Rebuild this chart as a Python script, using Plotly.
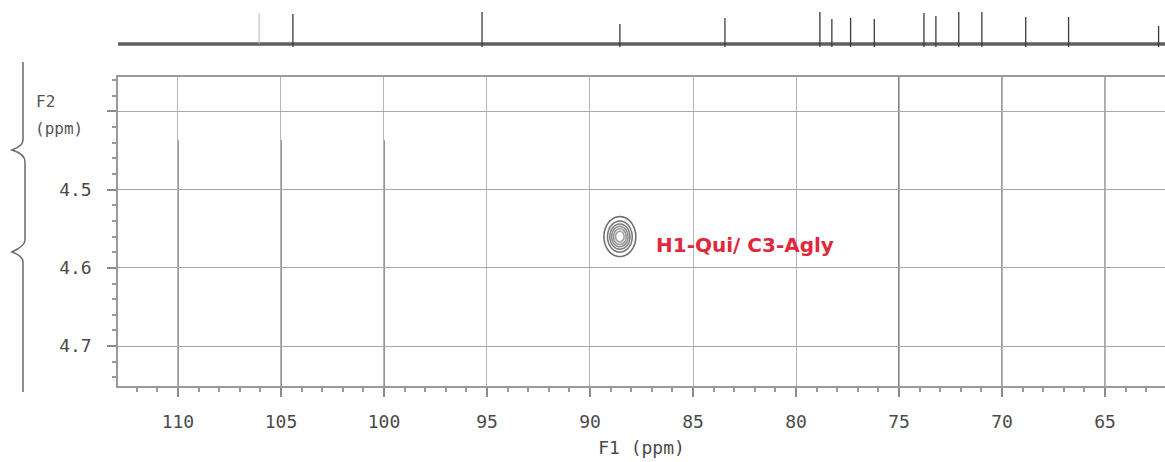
import numpy as np
import plotly.graph_objects as go

# ---------------- data ----------------
x_tickvals = [110, 105, 100, 95, 90, 85, 80, 75, 70, 65]
x_ticktext = ["110", "105", "100", "95", "90", "85", "80", "75", "70", "65"]
y_tickvals = [4.4, 4.5, 4.6, 4.7]
y_ticktext = ["", "4.5", "4.6", "4.7"]

# 1D 13C projection (top trace): peak positions (ppm) and heights (a.u.)
c13_ppm = [104.42, 95.24, 88.55, 83.45, 78.84, 78.26, 77.35, 76.20,
           73.79, 73.21, 72.10, 70.98, 68.85, 66.77, 62.40]
c13_int = [30, 32, 20, 26, 32, 25, 26, 25, 31, 28, 32, 32, 27, 27, 18]
weak_ppm = [106.06]
weak_int = [31]

# HMBC cross peak
cross_f1 = [88.55]      # 13C ppm
cross_f2 = [4.560]      # 1H ppm
cross_w1 = [0.36]       # line width (sigma) in F1, ppm
cross_w2 = [0.0119]     # line width (sigma) in F2, ppm
cross_label = ["H1-Qui/ C3-Agly"]
label_f1 = [86.9]
label_f2 = [4.571]

X_RANGE = [112.91, 62.09]
Y_RANGE = [4.751, 4.356]

# ---------------- layout helpers ----------------
W, H = 1165, 462
ML, MR, MT, MB = 118, 0, 5, 76
PW, PH = W - ML - MR, H - MT - MB


def px(xp):
    return (xp - ML) / PW


def py(yp):
    return (H - MB - yp) / PH


fig = go.Figure()

# ---- top 1D spectrum ----
bx = [X_RANGE[0], X_RANGE[1]]
fig.add_trace(go.Scatter(x=bx, y=[0, 0], xaxis="x2", yaxis="y2", mode="lines",
                         line=dict(color="#5f5f5f", width=3.5), hoverinfo="skip",
                         showlegend=False))
sx, sy = [], []
for p, h in sorted(zip(c13_ppm, c13_int), reverse=True):
    sx += [p, p, p, None]
    sy += [-3, h, 0, None]
fig.add_trace(go.Scatter(x=sx, y=sy, xaxis="x2", yaxis="y2", mode="lines",
                         line=dict(color="#3c3c3c", width=1.3), showlegend=False))
wx, wy = [], []
for p, h in zip(weak_ppm, weak_int):
    wx += [p, p, None]
    wy += [0, h, None]
fig.add_trace(go.Scatter(x=wx, y=wy, xaxis="x2", yaxis="y2", mode="lines",
                         line=dict(color="#b8b8b8", width=1), showlegend=False))

# ---- 2D contour cross peak ----
for f1, f2, w1, w2 in zip(cross_f1, cross_f2, cross_w1, cross_w2):
    gx = np.linspace(f1 - 4 * w1, f1 + 4 * w1, 121)
    gy = np.linspace(f2 - 4 * w2, f2 + 4 * w2, 121)
    XX, YY = np.meshgrid(gx, gy)
    Z = np.exp(-0.5 * (((XX - f1) / w1) ** 2 + ((YY - f2) / w2) ** 2))
    fig.add_trace(go.Contour(x=gx, y=gy, z=Z, showscale=False,
                             contours=dict(coloring="lines", start=0.1, end=0.9, size=0.15),
                             colorscale=[[0, "#6e6e6e"], [1, "#a0a0a0"]],
                             line=dict(width=1.6), hoverinfo="skip"))

for t, lx, ly in zip(cross_label, label_f1, label_f2):
    fig.add_annotation(x=lx, y=ly, text="<b>%s</b>" % t, showarrow=False,
                       xanchor="left", yanchor="middle",
                       font=dict(family="DejaVu Sans", size=20, color="#e0283c"))

# ---- darker grid segments (scan look) ----
dark_lines = [(110, 4.437, "#6a6a6a"), (105, 4.437, "#6a6a6a"), (100, 4.437, "#6a6a6a"),
              (75, Y_RANGE[1], "#555555"), (70, Y_RANGE[1], "#7a7a7a"), (65, Y_RANGE[1], "#8a8a8a")]
for xv, ytop, col in dark_lines:
    fig.add_shape(type="line", xref="x", yref="y", x0=xv, x1=xv, y0=ytop, y1=Y_RANGE[0],
                  line=dict(color=col, width=1.5), layer="below")

# ---- left brace decoration ----
brace = ("M {a},{b} L {a},{c} Q {a},{d} {e},{f} Q {g},{h} {i},{j} L {i},{k} "
         "Q {g},{l} {e},{m} Q {a},{n} {a},{o} L {a},{p}").format(
    a=px(23), b=py(62), c=py(140), d=py(146), e=px(12), f=py(150),
    g=px(25), h=py(154), i=px(25), j=py(162), k=py(240), l=py(246),
    m=py(252), n=py(256), o=py(262), p=py(392))
fig.add_shape(type="path", xref="paper", yref="paper", path=brace,
              line=dict(color="#6a6a6a", width=1.5))

# F2 axis title
fig.add_annotation(xref="paper", yref="paper", x=px(34), y=py(101), text="F2",
                   showarrow=False, xanchor="left", yanchor="middle",
                   font=dict(family="DejaVu Sans Mono", size=16, color="#555"))
fig.add_annotation(xref="paper", yref="paper", x=px(33), y=py(128), text="(ppm)",
                   showarrow=False, xanchor="left", yanchor="middle",
                   font=dict(family="DejaVu Sans Mono", size=16, color="#555"))

tick_font = dict(family="DejaVu Sans Mono", size=18, color="#4a4a4a")

fig.update_layout(
    width=W, height=H,
    margin=dict(l=ML, r=MR, t=MT, b=MB),
    paper_bgcolor="white", plot_bgcolor="white",
    showlegend=False,
    xaxis=dict(range=X_RANGE, domain=[0, 1], anchor="y",
               tickvals=x_tickvals, ticktext=x_ticktext,
               ticks="outside", ticklen=9, tickcolor="#8a8a8a", tickwidth=1.5,
               minor=dict(dtick=1, ticks="outside", ticklen=4, tickcolor="#9a9a9a",
                          showgrid=False),
               showgrid=True, gridcolor="#b4b4b4", gridwidth=1.2,
               showline=True, linecolor="#9a9a9a", linewidth=1.5, mirror=True,
               zeroline=False, tickfont=tick_font, ticklabelstandoff=10,
               title=dict(text="F1 (ppm)", standoff=10,
                          font=dict(family="DejaVu Sans Mono", size=18, color="#4a4a4a"))),
    yaxis=dict(range=Y_RANGE, domain=[0, py(77)], anchor="x",
               tickvals=y_tickvals, ticktext=y_ticktext,
               ticks="outside", ticklen=9, tickcolor="#8a8a8a", tickwidth=1.5,
               minor=dict(dtick=0.02, ticks="outside", ticklen=4, tickcolor="#9a9a9a",
                          showgrid=False),
               showgrid=True, gridcolor="#a8a8a8", gridwidth=1.2,
               showline=True, linecolor="#9a9a9a", linewidth=1.5, mirror=False,
               zeroline=False, tickfont=tick_font, ticklabelstandoff=12),
    xaxis2=dict(range=X_RANGE, domain=[0, 1], anchor="y2", visible=False, matches="x"),
    yaxis2=dict(range=[-16, 39], domain=[py(60), 1], anchor="x2", visible=False),
)

fig.write_html("out.html", config={"displayModeBar": False},
               post_script="document.body.style.margin='0';")
